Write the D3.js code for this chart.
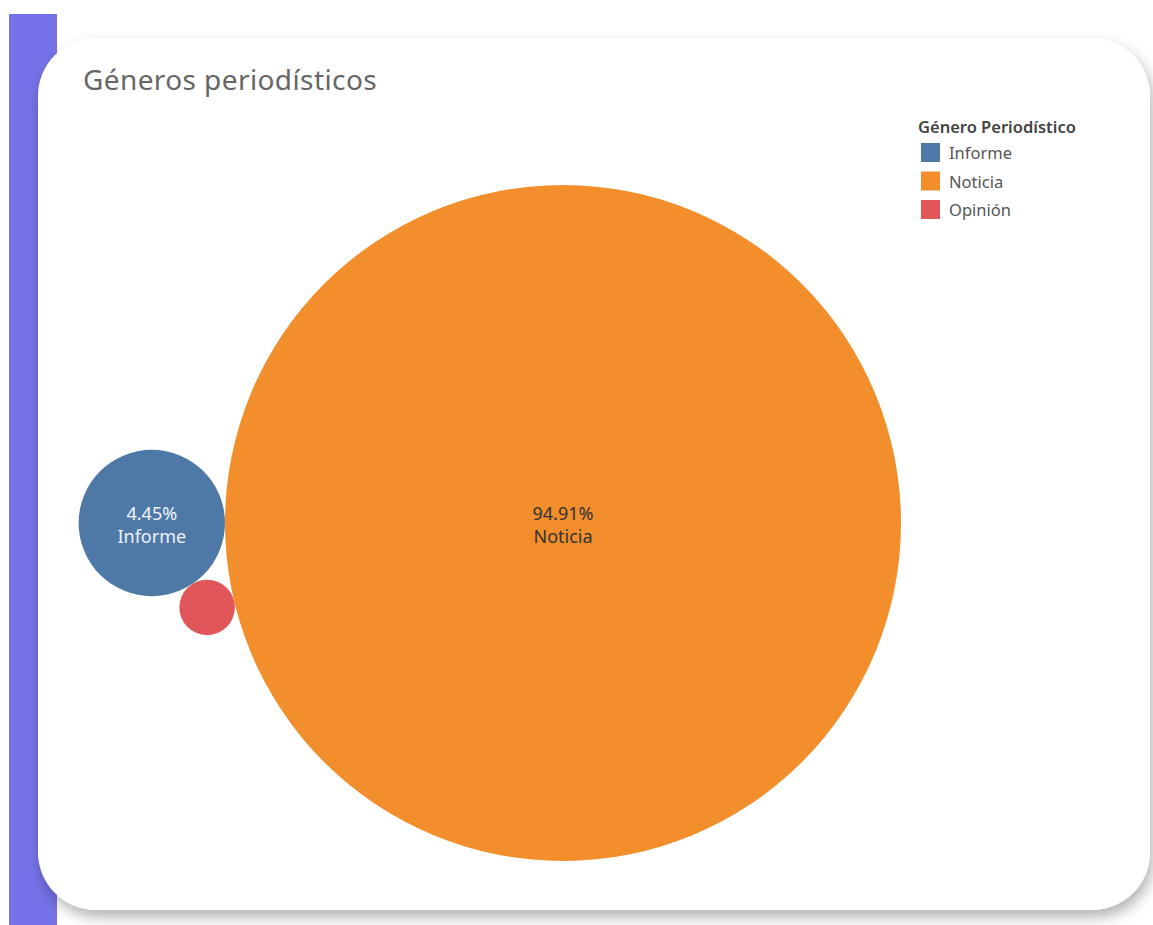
<!DOCTYPE html>
<html><head><meta charset="utf-8">
<script src="https://cdn.jsdelivr.net/npm/d3@7"></script>
<style>
html,body{margin:0;padding:0;background:#fff;}
svg{display:block;font-family:"Noto Sans","Open Sans",sans-serif;}
</style></head>
<body>
<svg id="chart" width="1153" height="925"></svg>
<script>
const categories = ["Informe", "Noticia", "Opinión"];
const shares = [4.45, 94.91, 0.64];
const shareLabels = ["4.45%", "94.91%", ""];
const colors = ["#4E79A7", "#F28E2B", "#E15759"];
const title = "Géneros periodísticos";
const legendTitle = "Género Periodístico";

const svg = d3.select("#chart");
const defs = svg.append("defs");
const f = defs.append("filter").attr("id","sh").attr("x","-10%").attr("y","-10%").attr("width","120%").attr("height","125%");
f.append("feDropShadow").attr("dx",3).attr("dy",7).attr("stdDeviation",7).attr("flood-color","#000").attr("flood-opacity",0.3);

// purple side bar
svg.append("rect").attr("x",9).attr("y",14).attr("width",48).attr("height",911).attr("fill","#7572E8");
// card
svg.append("rect").attr("x",38).attr("y",38).attr("width",1112).attr("height",872)
  .attr("rx",58).attr("ry",58).attr("fill","#fff").attr("filter","url(#sh)");

svg.append("text").attr("x",83).attr("y",90).attr("font-size",28).attr("letter-spacing",0.4).attr("fill","#666")
  .text(title);

// bubbles
const rScale = d3.scaleSqrt().domain([0, d3.max(shares)]).range([0, 338]);
const nodes = categories.map((c,i)=>({cat:c, v:shares[i], label:shareLabels[i], color:colors[i], r:rScale(shares[i])}));
const order = [1,0,2].map(i=>nodes[i]);
d3.packSiblings(order);
const big = nodes[1], inf = nodes[0], op = nodes[2];
const sx = inf.x > big.x ? -1 : 1;
const sy = op.y < big.y ? -1 : 1;
const cx = 563, cy = 523;
const xs = d3.scaleLinear().domain([big.x, big.x+1]).range([cx, cx+sx]);
const ys = d3.scaleLinear().domain([big.y, big.y+1]).range([cy, cy+sy]);

const g = svg.append("g");
g.selectAll("circle").data(nodes).join("circle")
  .attr("cx",d=>xs(d.x)).attr("cy",d=>ys(d.y)).attr("r",d=>d.r).attr("fill",d=>d.color);

const lab = g.selectAll("g.lab").data(nodes.filter(d=>d.label)).join("g").attr("class","lab")
  .attr("transform",d=>`translate(${xs(d.x)},${ys(d.y)})`);
lab.append("text").attr("text-anchor","middle").attr("y",-3).attr("font-size",18)
  .attr("fill",d=>d.cat==="Noticia"?"#333":"#eef2f7").text(d=>d.label);
lab.append("text").attr("text-anchor","middle").attr("y",20).attr("font-size",18)
  .attr("fill",d=>d.cat==="Noticia"?"#333":"#eef2f7").text(d=>d.cat);

// legend
const lg = svg.append("g").attr("transform","translate(918,0)");
lg.append("text").attr("x",0).attr("y",133).attr("font-size",16.5).attr("font-weight","600").attr("fill","#444").text(legendTitle);
const li = lg.selectAll("g.li").data(nodes).join("g").attr("class","li")
  .attr("transform",(d,i)=>`translate(3,${143+i*28.5})`);
li.append("rect").attr("width",19).attr("height",19).attr("fill",d=>d.color);
li.append("text").attr("x",28).attr("y",16).attr("font-size",16.5).attr("fill","#555").text(d=>d.cat);
</script>
</body></html>
